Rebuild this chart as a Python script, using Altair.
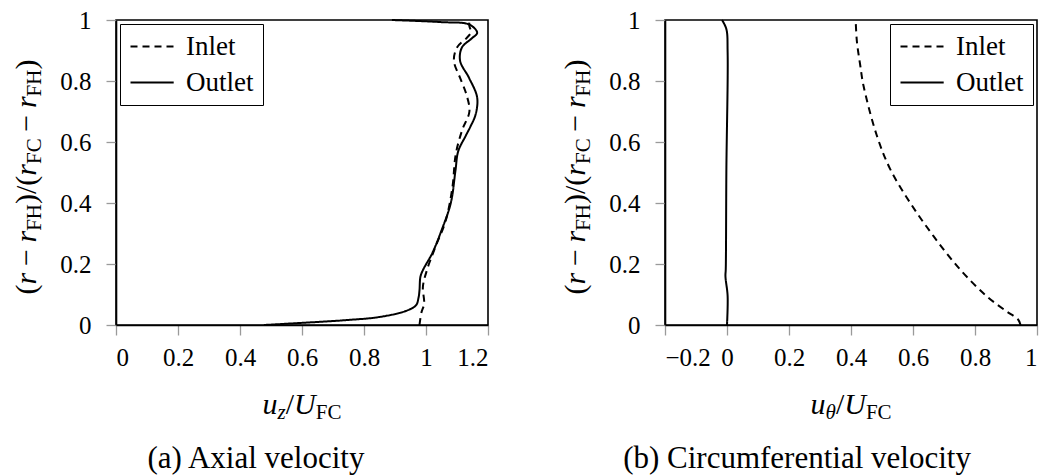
import altair as alt
import pandas as pd

# ---------------- data ----------------
# (a) axial velocity
ax_outlet_r = [0.0, 0.007, 0.016, 0.026, 0.046, 0.065, 0.09, 0.114, 0.158, 0.18, 0.235, 0.31, 0.40,
               0.506, 0.57, 0.62, 0.65, 0.69, 0.746, 0.81, 0.866, 0.91, 0.94, 0.958, 0.985, 0.993, 1.0]
ax_outlet_u = [0.477, 0.60, 0.742, 0.848, 0.935, 0.968, 0.976, 0.979, 0.982, 0.99, 1.02, 1.05, 1.08,
               1.095, 1.104, 1.128, 1.143, 1.16, 1.165, 1.139, 1.11, 1.116, 1.148, 1.165, 1.14, 1.05, 0.89]
ax_inlet_r = [0.0, 0.04, 0.07, 0.125, 0.18, 0.255, 0.34, 0.45, 0.56, 0.64, 0.70, 0.757, 0.81,
              0.866, 0.91, 0.94, 0.96, 0.98, 1.0]
ax_inlet_u = [0.979, 0.985, 0.994, 0.99, 1.003, 1.03, 1.063, 1.085, 1.096, 1.117, 1.14, 1.13, 1.11,
              1.09, 1.10, 1.13, 1.145, 1.14, 1.14]

# (b) circumferential velocity
ci_inlet_r = [0.0, 0.018, 0.046, 0.095, 0.183, 0.293, 0.402, 0.512, 0.622, 0.786, 0.85, 0.93, 1.0]
ci_inlet_u = [0.947, 0.939, 0.90, 0.837, 0.751, 0.665, 0.59, 0.526, 0.483, 0.44, 0.43, 0.419, 0.415]
ci_outlet_r = [0.0, 0.095, 0.16, 0.183, 0.51, 0.895, 0.97, 1.0]
ci_outlet_u = [0.0, 0.002, -0.005, -0.004, -0.002, 0.002, -0.002, -0.016]

series_names = ["Inlet", "Outlet"]
x_ticks_a = [0, 0.2, 0.4, 0.6, 0.8, 1.0, 1.2]
x_ticks_b = [-0.2, 0, 0.2, 0.4, 0.6, 0.8, 1.0]
y_ticks = [0, 0.2, 0.4, 0.6, 0.8, 1.0]
captions = ["(a) Axial velocity", "(b) Circumferential velocity"]

# ---------------- layout / style ----------------
W, H = 372, 305
FONT = "Liberation Serif"
MAIN, SUB = 30, 21
DROP = 5

ROMAN = {'(': .333, ')': .333, '/': .278, 'F': .556, 'H': .722, 'C': .667, '−': .564}
ITALIC = {'r': .389, 'u': .5, 'z': .389, 'U': .722, 'θ': .5}


def piece_width(txt, italic, sub):
    table = ITALIC if italic else ROMAN
    size = SUB if sub else MAIN
    w = sum(table.get(c, .5) for c in txt) * size
    if txt == '−':
        w += 2 * 0.222 * MAIN
    return w


def math_title(pieces, cx, cy, rotated):
    total = sum(piece_width(t, i, s) for t, i, s in pieces)
    pos = 0.0
    layers = []
    for t, i, s in pieces:
        w = piece_width(t, i, s)
        lead = 0.222 * MAIN if t == '−' else 0.0
        if rotated:
            px = cx + (DROP if s else 0)
            py = cy + total / 2 - pos - lead
        else:
            px = cx - total / 2 + pos + lead
            py = cy + (DROP if s else 0)
        layers.append(
            alt.Chart(alt.Data(values=[{}])).mark_text(
                text=t, font=FONT, fontStyle="italic" if i else "normal",
                fontSize=SUB if s else MAIN, align="left", baseline="alphabetic",
                angle=270 if rotated else 0, color="black"
            ).encode(x=alt.value(px), y=alt.value(py))
        )
        pos += w
    return layers


Y_TITLE = [("(", 0, 0), ("r", 1, 0), ("−", 0, 0), ("r", 1, 0), ("FH", 0, 1), (")/(", 0, 0),
           ("r", 1, 0), ("FC", 0, 1), ("−", 0, 0), ("r", 1, 0), ("FH", 0, 1), (")", 0, 0)]
X_TITLE_A = [("u", 1, 0), ("z", 1, 1), ("/", 0, 0), ("U", 1, 0), ("FC", 0, 1)]
X_TITLE_B = [("u", 1, 0), ("θ", 1, 1), ("/", 0, 0), ("U", 1, 0), ("FC", 0, 1)]


def make_df(r_in, u_in, r_out, u_out):
    rows = [{"r": r, "u": u, "s": series_names[0]} for r, u in zip(r_in, u_in)]
    rows += [{"r": r, "u": u, "s": series_names[1]} for r, u in zip(r_out, u_out)]
    return pd.DataFrame(rows)


def panel(df, xdom, xticks, legend_orient, xtitle, caption, cap_x):
    lines = alt.Chart(df).mark_line(color="black", strokeWidth=2, interpolate="catmull-rom").encode(
        x=alt.X("u:Q", scale=alt.Scale(domain=xdom, nice=False, zero=False),
                axis=alt.Axis(values=xticks, format=".1~f", title=None)),
        y=alt.Y("r:Q", scale=alt.Scale(domain=[0, 1], nice=False, zero=False),
                axis=alt.Axis(values=y_ticks, format=".1~f", title=None)),
        strokeDash=alt.StrokeDash(
            "s:N",
            scale=alt.Scale(domain=series_names, range=[[7, 5], [1, 0]]),
            legend=alt.Legend(orient=legend_orient, offset=4, title=None),
        ),
        order=alt.Order("r:Q"),
        detail="s:N",
    )
    cap = alt.Chart(alt.Data(values=[{}])).mark_text(
        text=caption, font=FONT, fontSize=31, align="center", baseline="alphabetic", color="black"
    ).encode(x=alt.value(cap_x), y=alt.value(448))
    layers = [lines] + math_title(Y_TITLE, -80, 157, True) + math_title(xtitle, W / 2, 394, False) + [cap]
    return alt.layer(*layers).properties(width=W, height=H)


left = panel(make_df(ax_inlet_r, ax_inlet_u, ax_outlet_r, ax_outlet_u), [0, 1.2], x_ticks_a,
             "top-left", X_TITLE_A, captions[0], 140)
right = panel(make_df(ci_inlet_r, ci_inlet_u, ci_outlet_r, ci_outlet_u), [-0.2, 1.0], x_ticks_b,
              "top-right", X_TITLE_B, captions[1], 132)

chart = alt.hconcat(left, right, spacing=70).resolve_scale(
    strokeDash="independent"
).resolve_legend(strokeDash="independent").properties(
    padding={"left": 11, "top": 7, "right": 0, "bottom": 0},
    background="white",
).configure_view(
    stroke="black", strokeWidth=1.6
).configure_axis(
    domainColor="black", domainWidth=1.6, tickColor="#9a9a9a", tickWidth=1.3, tickSize=10,
    labelFont=FONT, labelFontSize=25, labelColor="black", grid=False
).configure_axisX(
    labelPadding=10
).configure_axisY(
    labelPadding=15
).configure_legend(
    symbolType="M-1,0H2.6", symbolStrokeColor="black", symbolStrokeWidth=2, symbolSize=576,
    labelFont=FONT, labelFontSize=27, labelColor="black", labelOffset=30, rowPadding=8,
    strokeColor="black", fillColor="white", padding=9, cornerRadius=0
)

chart.save("out.html", embed_options={"renderer": "svg", "actions": False})
